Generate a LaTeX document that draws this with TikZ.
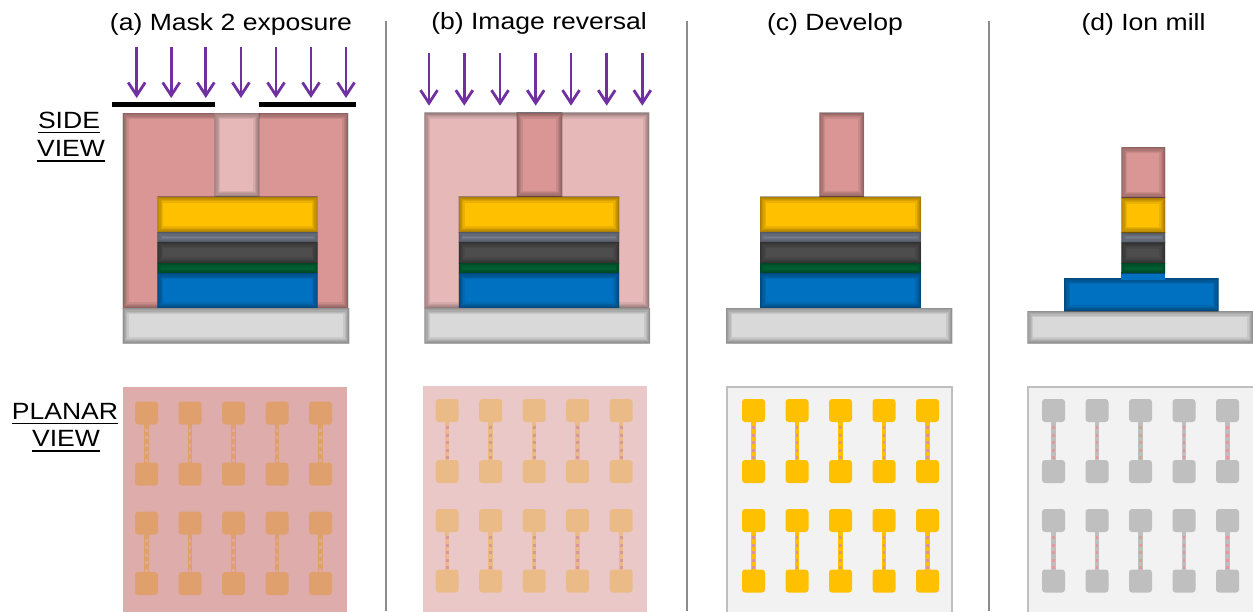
\documentclass[tikz,border=0pt]{standalone}
\usepackage{fontspec}
\newfontfamily\labfont[FakeStretch=1.13]{Liberation Sans}
\usetikzlibrary{arrows.meta}

% layer colours of the film stack
\definecolor{lyrPink}{HTML}{D99694}
\definecolor{lyrPinkLt}{HTML}{E6B9B8}
\definecolor{lyrGold}{HTML}{FFC000}
\definecolor{lyrSlate}{HTML}{808898}
\definecolor{lyrDark}{HTML}{4D4D4D}
\definecolor{lyrGreen}{HTML}{006B38}
\definecolor{lyrBlue}{HTML}{0070C0}
\definecolor{lyrSub}{HTML}{D9D9D9}
\definecolor{uvPurple}{HTML}{7030A0}
\definecolor{sepGray}{HTML}{8C8C8C}
% planar-view colours
\definecolor{plAbg}{HTML}{DFACAC}
\definecolor{plApad}{HTML}{E0A06E}
\definecolor{plAdot}{HTML}{E0A8A0}
\definecolor{plBbg}{HTML}{EAC8C8}
\definecolor{plBpad}{HTML}{EBBB87}
\definecolor{plBdot}{HTML}{D9979A}
\definecolor{plCbg}{HTML}{F2F2F2}
\definecolor{plCbd}{HTML}{BFBFBF}
\definecolor{plCdot}{HTML}{D99694}
\definecolor{plDpad}{HTML}{BFBFBF}
\definecolor{plDdot}{HTML}{E49A9A}

\tikzset{
  lbl/.style={font={\labfont\fontsize{23.5pt}{28pt}\selectfont}, inner sep=0pt, anchor=base},
  sepline/.style={sepGray, line width=2},
  uv/.style={uvPurple, line width=2.8, -{Straight Barb[length=13pt,width=17pt]}},
  maskbar/.style={fill=black},
}

% a film layer with soft, darkened inner edges: colour, x1, y1, x2, y2
\newcommand\slab[5]{%
  \begin{scope}
    \clip (#2,#3) rectangle (#4,#5);
    \fill[#1] (#2,#3) rectangle (#4,#5);
    \foreach \lw in {12,9,6.5,4,2}
      \draw[black, opacity=.075, line width=\lw] (#2,#3) rectangle (#4,#5);
  \end{scope}}

% gold / cap / magnetic / green / blue stack between two x positions
\newcommand\filmstack[2]{%
  \slab{lyrGold}{#1}{196.7}{#2}{232.3}
  \slab{lyrSlate}{#1}{232.3}{#2}{242}
  \slab{lyrDark}{#1}{242}{#2}{263}
  \slab{lyrGreen}{#1}{263}{#2}{273.3}
  \slab{lyrBlue}{#1}{273.3}{#2}{308.3}}

% 5 x 2 array of pad pairs joined by narrow wires: x0, y0, pad colour, wire-dot colour
\newcommand\padarray[4]{%
  \foreach \c in {0,...,4}{
    \pgfmathsetmacro\px{#1+43.5*\c}
    \foreach \r in {0,110}{
      \draw[#3, line width=4.5] (\px+11.5,#2+\r+22) -- (\px+11.5,#2+\r+62);
      \draw[#4, line width=2.6, dash pattern=on 3 off 4.5] (\px+11.5,#2+\r+27) -- (\px+11.5,#2+\r+61);
    }
    \foreach \r in {0,61,110,170.5}{
      \fill[#3, rounded corners=3] (\px,#2+\r) rectangle ++(23,23);
    }
  }}

\begin{document}
\begin{tikzpicture}[x=1pt,y=-1pt]
\useasboundingbox (0,0) rectangle (1253,611);
\fill[white] (0,0) rectangle (1253,611);

% column titles
\node[lbl] (ta) at (231,30) {(a) Mask 2 exposure};
\node[lbl] (tb) at (539,29.5) {(b) Image reversal};
\node[lbl] (tc) at (835,30) {(c) Develop};
\node[lbl] (td) at (1143.5,30) {(d) Ion mill};

% row labels, each word underlined
\node[lbl] (side) at (69,128.5) {SIDE};
\node[lbl] (sidev) at (71,156.7) {VIEW};
\node[lbl] (planar) at (65,419.3) {PLANAR};
\node[lbl] (planarv) at (66,446.7) {VIEW};
\foreach \w in {side,sidev,planar,planarv}
  \draw[line width=1.4] ([yshift=-4.2pt]\w.base west) -- ([yshift=-4.2pt]\w.base east);

% separators between the steps
\draw[sepline] (385.7,20.5) -- (385.7,611);
\draw[sepline] (687.3,20.5) -- (687.3,611);
\draw[sepline] (989,20.5) -- (989,611);

% ---- (a) mask 2 exposure, side view
\foreach \x in {136.7,171.2,205.8,240.9,276,311,346}
  \draw[uv] (\x,47) -- (\x,98);
\fill[maskbar] (111.7,101.7) rectangle (215,107.3);
\fill[maskbar] (259.3,101.7) rectangle (356,107.3);
\slab{lyrPink}{122.7}{113.3}{348.3}{308.3}
\slab{lyrPinkLt}{214.3}{113.3}{259.3}{196.7}
\filmstack{157.3}{317.7}
\slab{lyrSub}{122.7}{308.3}{349.3}{343.3}

% ---- (b) image reversal, side view
\foreach \x in {429,464.3,500,535.7,571,606.7,642.3}
  \draw[uv] (\x,53.3) -- (\x,105.7);
\slab{lyrPinkLt}{424.3}{112.7}{649.3}{308.3}
\slab{lyrPink}{516.7}{112.7}{562.3}{196.7}
\filmstack{458.7}{619.3}
\slab{lyrSub}{424.3}{308.3}{650}{343.3}

% ---- (c) develop, side view
\slab{lyrPink}{819.3}{112.7}{864}{196.7}
\filmstack{760}{921}
\slab{lyrSub}{726}{308.3}{952.3}{343.3}

% ---- (d) ion mill, side view
\slab{lyrSub}{1027.3}{311}{1253}{343.3}
\slab{lyrBlue}{1064}{278.3}{1218.7}{311}
\fill[lyrBlue] (1121.3,272) rectangle (1165.3,280);
\slab{lyrPink}{1121.3}{147.3}{1165.3}{197.7}
\slab{lyrGold}{1121.3}{197.7}{1165.3}{232.7}
\slab{lyrSlate}{1121.3}{232.7}{1165.3}{242.7}
\slab{lyrDark}{1121.3}{242.7}{1165.3}{263.3}
\slab{lyrGreen}{1121.3}{263.3}{1165.3}{273.3}

% ---- planar views
\fill[plAbg] (122.7,386.7) rectangle (347.3,615);
\padarray{135}{401.5}{plApad}{plAdot}
\fill[plBbg] (422.7,386) rectangle (647.3,615);
\padarray{435.7}{399}{plBpad}{plBdot}
\filldraw[fill=plCbg, draw=plCbd, line width=2] (726.7,386.7) rectangle (952.3,620);
\padarray{742}{399}{lyrGold}{plCdot}
\filldraw[fill=plCbg, draw=plCbd, line width=2] (1028.3,386.7) rectangle (1262,620);
\padarray{1042}{399}{plDpad}{plDdot}
\end{tikzpicture}
\end{document}
